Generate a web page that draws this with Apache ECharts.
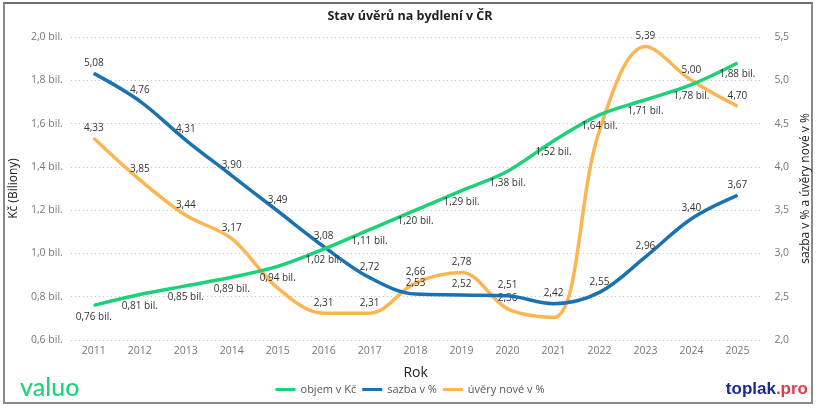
<!DOCTYPE html>
<html>
<head>
<meta charset="utf-8">
<script src="https://cdn.jsdelivr.net/npm/echarts@6/dist/echarts.min.js"></script>
<style>
html,body{margin:0;padding:0;background:#fff;}
#frame{position:absolute;left:3px;top:2px;width:810px;height:402px;border:2px solid #8a8a8a;border-top-color:#6e6e6e;box-sizing:border-box;}
#c{position:absolute;left:0;top:0;width:820px;height:414px;}
</style>
</head>
<body>
<div id="frame"></div>
<div id="c"></div>
<script>
const years = ['2011','2012','2013','2014','2015','2016','2017','2018','2019','2020','2021','2022','2023','2024','2025'];
const objem = [0.76,0.81,0.85,0.89,0.94,1.02,1.11,1.20,1.29,1.38,1.52,1.64,1.71,1.78,1.88];
const sazba = [5.08,4.76,4.31,3.90,3.49,3.08,2.72,2.53,2.52,2.51,2.42,2.55,2.96,3.40,3.67];
const uvery = [4.33,3.85,3.44,3.17,2.60,2.31,2.31,2.66,2.78,2.36,2.26,4.42,5.39,5.00,4.70];
const uveryHiddenLabels = ['2015','2021','2022'];
const leftTicks = [0.6,0.8,1.0,1.2,1.4,1.6,1.8,2.0];
const rightTicks = [2.0,2.5,3.0,3.5,4.0,4.5,5.0,5.5];

const FONT = '"Open Sans", "Noto Sans", sans-serif';
const fmt = (v, d) => v.toFixed(d).replace('.', ',');
const chart = echarts.init(document.getElementById('c'));
const labelStyle = {fontFamily: FONT, fontSize: 10, color: '#333', opacity: 1};
const sym = {symbol: 'circle', symbolSize: 1, showSymbol: true};

chart.setOption({
  animation: false,
  textStyle: {fontFamily: FONT},
  title: {
    text: 'Stav úvěrů na bydlení v ČR', left: 'center', top: 5,
    textStyle: {fontFamily: FONT, fontSize: 12.5, fontWeight: 'bold', color: '#222'}
  },
  graphic: [
    {type: 'text', left: 20, top: 375, style: {text: 'valuo', font: '500 25px "Lato", "Noto Sans", sans-serif', fill: '#22d17a'}},
    {type: 'text', right: 12, top: 381, style: {
      text: '{a|toplak}{b|.pro}',
      rich: {a: {font: 'bold 17px "Liberation Sans", Arial, sans-serif', fill: '#1a2a8f', color: '#1a2a8f'},
             b: {font: 'bold 17px "Liberation Sans", Arial, sans-serif', fill: '#e03a4a', color: '#e03a4a'}}
    }}
  ],
  legend: {
    bottom: 14, left: 'center', itemWidth: 20, itemHeight: 3, itemGap: 6,
    icon: 'rect',
    textStyle: {fontFamily: FONT, fontSize: 11, color: '#555'},
    data: ['objem v Kč', 'sazba v %', 'úvěry nové v %']
  },
  grid: {left: 60.5, right: 55.5, top: 37, bottom: 74, containLabel: false},
  xAxis: {
    type: 'category', data: years, boundaryGap: true,
    name: 'Rok', nameLocation: 'middle', nameGap: 26,
    nameTextStyle: {fontFamily: FONT, fontSize: 14, color: '#222'},
    axisLine: {show: false}, axisTick: {show: false},
    axisLabel: {fontFamily: FONT, fontSize: 10.5, color: '#777', margin: 6}
  },
  yAxis: [
    {
      type: 'value', min: 0.6, max: 2.0, interval: 0.2,
      name: 'Kč (Biliony)', nameLocation: 'middle', nameGap: 44, nameRotate: 90,
      nameTextStyle: {fontFamily: FONT, fontSize: 12, color: '#222'},
      axisLine: {show: false}, axisTick: {show: false},
      axisLabel: {fontFamily: FONT, fontSize: 10.5, color: '#777', margin: 8,
        formatter: v => fmt(v, 1) + ' bil.'},
      splitLine: {lineStyle: {type: [1, 3], color: '#bdbdbd', width: 1}}
    },
    {
      type: 'value', min: 2.0, max: 5.5, interval: 0.5, position: 'right',
      name: 'sazba v % a úvěry nové v %', nameLocation: 'middle', nameGap: 27, nameRotate: 90,
      nameTextStyle: {fontFamily: FONT, fontSize: 12, color: '#222'},
      axisLine: {show: false}, axisTick: {show: false},
      axisLabel: {fontFamily: FONT, fontSize: 10.5, color: '#777', margin: 14,
        formatter: v => fmt(v, 1)},
      splitLine: {show: false}
    }
  ],
  series: [
    {
      name: 'objem v Kč', type: 'line', yAxisIndex: 0, data: objem, smooth: 0.35,
      ...sym, itemStyle: {color: '#1dd17a'}, lineStyle: {width: 3.5, color: '#1dd17a'},
      label: {show: true, position: 'bottom', distance: 6, ...labelStyle,
        formatter: p => fmt(p.value, 2) + ' bil.'},
      labelLayout: {hideOverlap: false},
      z: 3
    },
    {
      name: 'sazba v %', type: 'line', yAxisIndex: 1, data: sazba, smooth: 0.35,
      ...sym, itemStyle: {color: '#1a72b2'}, lineStyle: {width: 3.5, color: '#1a72b2'},
      label: {show: true, position: 'top', distance: 5, ...labelStyle,
        formatter: p => fmt(p.value, 2)},
      labelLayout: {hideOverlap: false},
      z: 2
    },
    {
      name: 'úvěry nové v %', type: 'line', yAxisIndex: 1, smooth: 0.35,
      data: uvery.map((v, i) => uveryHiddenLabels.includes(years[i]) ? {value: v, label: {show: false}} : v),
      ...sym, itemStyle: {color: '#fdb552'}, lineStyle: {width: 3.5, color: '#fdb552'},
      label: {show: true, position: 'top', distance: 5, ...labelStyle,
        formatter: p => fmt(p.value, 2)},
      labelLayout: {hideOverlap: false},
      z: 1
    }
  ]
});
</script>
</body>
</html>
